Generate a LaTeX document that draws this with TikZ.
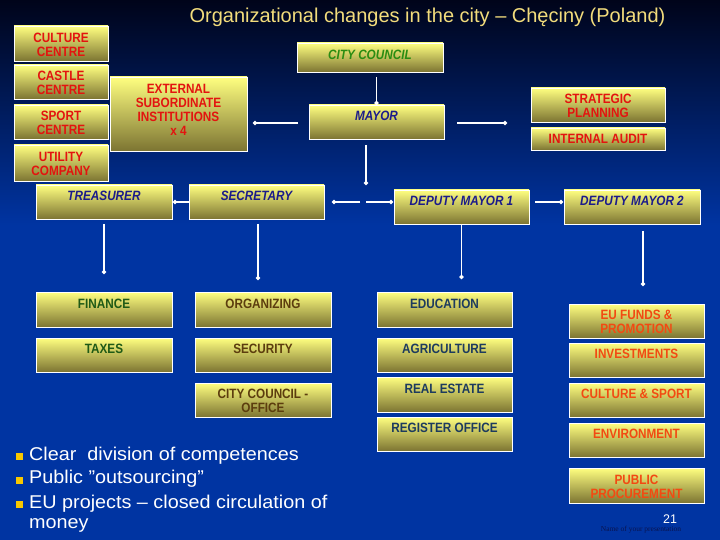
\documentclass[tikz,border=0pt]{standalone}
\usepackage{fontspec}
\setmainfont{Liberation Sans}
\newfontfamily\bxf[FakeStretch=0.87]{Liberation Sans}
\newfontfamily\bulf[FakeStretch=1.07]{Liberation Sans}
\newfontfamily\serf{Liberation Serif}
\usetikzlibrary{arrows.meta,calc}

\definecolor{bgtop}{HTML}{00041A}
\definecolor{bgblue}{HTML}{0034A2}
\definecolor{boxtop}{HTML}{FFFF80}
\definecolor{boxmid}{HTML}{DCD858}
\definecolor{boxbot}{HTML}{7C7432}
\definecolor{titlec}{HTML}{F2DC7C}
\definecolor{bulyel}{HTML}{F8C800}
\definecolor{namec}{HTML}{0A1450}
\definecolor{tred}{HTML}{E3140F}
\definecolor{tgreen}{HTML}{2A8C12}
\definecolor{tnavy}{HTML}{1B1B8A}
\definecolor{tdgreen}{HTML}{1F5A16}
\definecolor{tbrown}{HTML}{5C3D0E}
\definecolor{tslate}{HTML}{1D3B5E}
\definecolor{torange}{HTML}{F24A12}

\newcommand{\boxfont}{\bxf\bfseries\fontsize{13.5}{14}\selectfont}
\newcommand{\boxtxt}[2][4pt]{\raisebox{#1}[\height][\depth]{\begin{tabular}{@{}c@{}}#2\end{tabular}}}

\tikzset{
  ob/.style={draw=white, line width=0.8pt, top color=boxtop, middle color=boxmid, bottom color=boxbot,
             inner sep=0pt, outer sep=0pt, font=\boxfont},
  obi/.style={ob, font=\boxfont\itshape},
  conn/.style={draw=white, line width=1.6pt, -{Circle[length=4pt]}},
  bsq/.style={fill=bulyel, minimum size=7pt, inner sep=0pt},
  btx/.style={text=white, font=\bulf\fontsize{18.5}{22}\selectfont, inner sep=0pt, anchor=base west},
}

\begin{document}
\begin{tikzpicture}[x=1pt,y=-1pt]
\useasboundingbox (0,0) rectangle (720,540);
\fill[bgblue] (0,0) rectangle (720,540);
\shade[top color=bgtop, bottom color=bgblue] (0,0) rectangle (720,225);

% title
\node[font=\fontsize{20}{24}\selectfont, text=titlec, anchor=base, inner sep=0pt] (title) at (427.5,22.5)
  {Organizational changes in the city – Chęciny (Poland)};

% left column
\node[ob, minimum width=94pt, minimum height=35pt, text=tred] (cul) at (61,43.5) {\boxtxt[-3pt]{CULTURE\\CENTRE}};
\node[ob, minimum width=94pt, minimum height=34pt, text=tred] (cas) at (61,82) {\boxtxt[-3pt]{CASTLE\\CENTRE}};
\node[ob, minimum width=94pt, minimum height=34pt, text=tred] (spo) at (61,122) {\boxtxt[-3pt]{SPORT\\CENTRE}};
\node[ob, minimum width=94pt, minimum height=36pt, text=tred] (uti) at (61,163) {\boxtxt[-3pt]{UTILITY\\COMPANY}};
\node[ob, minimum width=137pt, minimum height=74pt, text=tred] (ext) at (178.5,114) {\boxtxt[2.5pt]{EXTERNAL\\SUBORDINATE\\INSTITUTIONS\\x 4}};

% top
\node[obi, minimum width=146pt, minimum height=29pt, text=tgreen] (cc) at (370,57.5) {\boxtxt[1pt]{CITY COUNCIL}};
\node[obi, minimum width=135pt, minimum height=34pt, text=tnavy] (may) at (376.5,122) {\boxtxt{MAYOR}};
\node[ob, minimum width=134pt, minimum height=34pt, text=tred] (str) at (598,105) {\boxtxt[-3pt]{STRATEGIC\\PLANNING}};
\node[ob, minimum width=134pt, minimum height=22pt, text=tred] (aud) at (598,139) {\boxtxt[-2pt]{INTERNAL AUDIT}};

% second level
\node[obi, minimum width=136pt, minimum height=34pt, text=tnavy] (tre) at (104,202) {\boxtxt{TREASURER}};
\node[obi, minimum width=135pt, minimum height=34pt, text=tnavy] (sec) at (256.5,202) {\boxtxt{SECRETARY}};
\node[obi, minimum width=135pt, minimum height=34pt, text=tnavy] (dm1) at (461.5,207) {\boxtxt{DEPUTY MAYOR 1}};
\node[obi, minimum width=136pt, minimum height=34pt, text=tnavy] (dm2) at (632,207) {\boxtxt{DEPUTY MAYOR 2}};

% departments
\node[ob, minimum width=136pt, minimum height=35pt, text=tdgreen] (fin) at (104,309.5) {\boxtxt{FINANCE}};
\node[ob, minimum width=136pt, minimum height=34pt, text=tdgreen] (tax) at (104,355) {\boxtxt{TAXES}};
\node[ob, minimum width=136pt, minimum height=35pt, text=tbrown] (org) at (263,309.5) {\boxtxt{ORGANIZING}};
\node[ob, minimum width=136pt, minimum height=34pt, text=tbrown] (secu) at (263,355) {\boxtxt{SECURITY}};
\node[ob, minimum width=136pt, minimum height=34pt, text=tbrown] (cco) at (263,400) {\boxtxt[-3pt]{CITY COUNCIL -\\OFFICE}};
\node[ob, minimum width=135pt, minimum height=35pt, text=tslate] (edu) at (444.5,309.5) {\boxtxt{EDUCATION}};
\node[ob, minimum width=135pt, minimum height=34pt, text=tslate] (agr) at (444.5,355) {\boxtxt{AGRICULTURE}};
\node[ob, minimum width=135pt, minimum height=35pt, text=tslate] (rea) at (444.5,394.5) {\boxtxt{REAL ESTATE}};
\node[ob, minimum width=135pt, minimum height=34pt, text=tslate] (reg) at (444.5,434) {\boxtxt{REGISTER OFFICE}};
\node[ob, minimum width=135pt, minimum height=34pt, text=torange] (euf) at (636.5,321) {\boxtxt[-3pt]{EU FUNDS \&\\PROMOTION}};
\node[ob, minimum width=135pt, minimum height=34pt, text=torange] (inv) at (636.5,360) {\boxtxt{INVESTMENTS}};
\node[ob, minimum width=135pt, minimum height=34pt, text=torange] (cs) at (636.5,400) {\boxtxt{CULTURE \& SPORT}};
\node[ob, minimum width=135pt, minimum height=34pt, text=torange] (env) at (636.5,440) {\boxtxt{ENVIRONMENT}};
\node[ob, minimum width=135pt, minimum height=35pt, text=torange] (pp) at (636.5,485.5) {\boxtxt[-3pt]{PUBLIC\\PROCUREMENT}};

% connectors
\coordinate (hub) at (366,202);
\draw[conn, shorten <=5pt] (may.north |- cc.south) -- (may.north);
\draw[conn, shorten <=11pt, shorten >=6pt] ([yshift=-1pt]may.west) -- ([yshift=-1pt]may.west -| ext.east);
\draw[conn, shorten <=13pt, shorten >=24pt] ([yshift=-1pt]may.east) -- ([yshift=-1pt]may.east -| str.west);
\draw[conn, shorten <=6pt, shorten >=17pt] (may.south -| hub) -- (hub);
\draw[conn, shorten <=6pt, shorten >=8pt] (hub) -- (hub -| sec.east);
\draw[conn, shorten >=1pt] (hub) -- (hub -| dm1.west);
\draw[conn, shorten >=1pt] (sec.west) -- (sec.west -| tre.east);
\draw[conn, shorten <=6pt, shorten >=1pt] (dm1.east |- hub) -- (dm2.west |- hub);
\draw[conn, shorten <=5pt, shorten >=18pt] (tre.south) -- (tre.south |- fin.north);
\draw[conn, shorten <=5pt, shorten >=12pt] ([xshift=1.5pt]sec.south) -- ([xshift=1.5pt]sec.south |- org.north);
\draw[conn, shorten >=13pt] (dm1.south) -- (dm1.south |- edu.north);
\draw[conn, shorten <=7pt, shorten >=18pt] ([xshift=11pt]dm2.south) -- ([xshift=11pt]dm2.south |- euf.north);

% bullets
\node[bsq] (q1) at (19,456.5) {};
\node[bsq] (q2) at (19,480) {};
\node[bsq] (q3) at (19,504.5) {};
\node[btx] (l1) at (29,460) {Clear\ \ division of competences};
\node[btx] (l2) at (29,483.5) {Public ”outsourcing”};
\node[btx] (l3) at (29,508) {EU projects – closed circulation of};
\node[btx] (l4) at (29,528) {money};

% footer
\node[text=white, font=\fontsize{12.5}{14}\selectfont, anchor=base, inner sep=0pt] (pg) at (670,523) {21};
\node[text=namec, font=\serf\fontsize{7.5}{9}\selectfont, anchor=base, inner sep=0pt] (nm) at (641,531) {Name of your presentation};
\end{tikzpicture}
\end{document}
